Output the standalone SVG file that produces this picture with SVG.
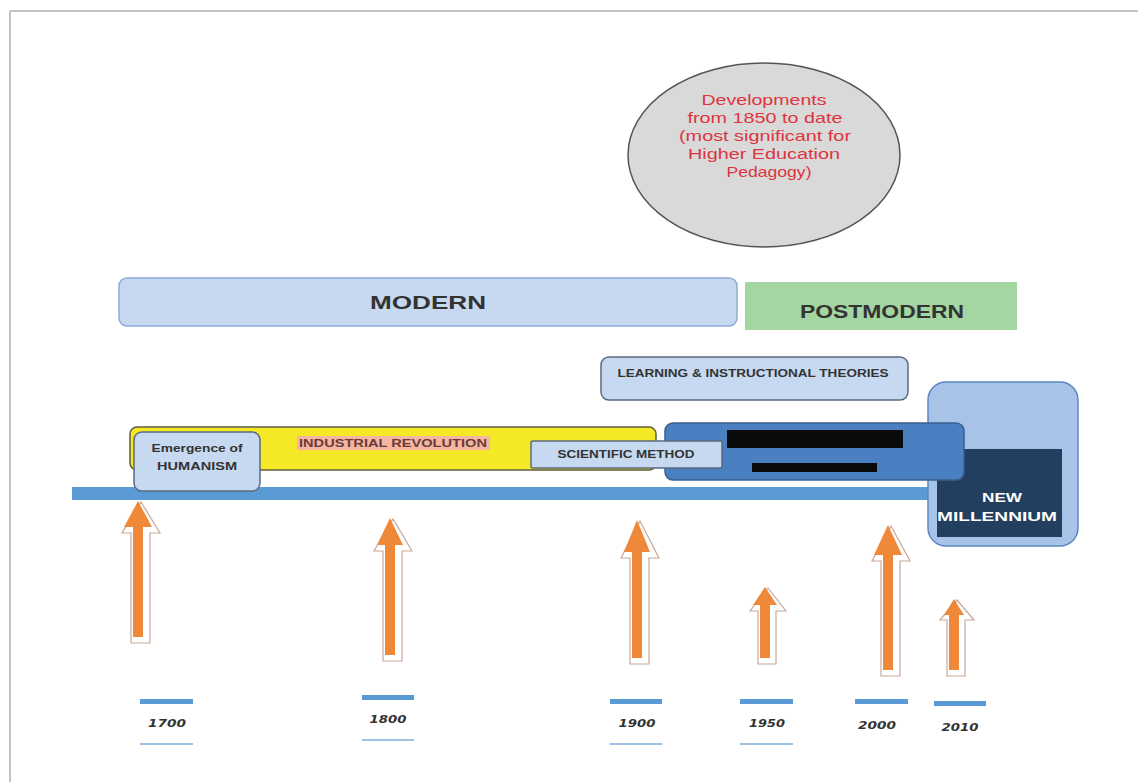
<svg xmlns="http://www.w3.org/2000/svg" width="1138" height="782" viewBox="0 0 1138 782">
<defs>
<style>
.box{fill:#c6d9f0;stroke:#5a6a80;stroke-width:1.5}
.lbl{font-family:"Liberation Sans",Arial,sans-serif;font-weight:bold;fill:#333;text-anchor:middle}
.wt{fill:#fff}
.red{fill:#6a3a3a}
.ct{font-family:"Liberation Sans",Arial,sans-serif;font-size:15px;fill:#de3440;text-anchor:middle}
.yr{font-family:"DejaVu Sans",Verdana,sans-serif;font-weight:bold;font-style:italic;font-size:10.5px;fill:#333;text-anchor:middle}
.arr{fill:#f0883a}
.sh{fill:#fff;stroke:#c9a797;stroke-width:1.2}
.tk{fill:#5b9bd5}
.tl{stroke:#9dc3e6;stroke-width:2}
</style>
</defs>
<rect width="1138" height="782" fill="#fff"/>
<g id="page">
<line x1="10" y1="11" x2="1138" y2="11" stroke="#c4c4c4" stroke-width="2"/>
<line x1="10" y1="11" x2="10" y2="782" stroke="#c4c4c4" stroke-width="2"/>
</g>

<g id="circle">
<ellipse cx="764" cy="155" rx="136" ry="92" fill="#d9d9d9" stroke="#555" stroke-width="1.5"/>
<text class="ct" x="764" y="105" textLength="125" lengthAdjust="spacingAndGlyphs">Developments</text>
<text class="ct" x="765" y="123" textLength="155" lengthAdjust="spacingAndGlyphs">from 1850 to date</text>
<text class="ct" x="765" y="141" textLength="172" lengthAdjust="spacingAndGlyphs">(most significant for</text>
<text class="ct" x="764" y="159" textLength="152" lengthAdjust="spacingAndGlyphs">Higher Education</text>
<text class="ct" x="769" y="177" textLength="85" lengthAdjust="spacingAndGlyphs">Pedagogy)</text>
</g>

<g id="modern">
<rect x="119" y="278" width="618" height="48" rx="8" fill="#c6d9f0" stroke="#8eaadb" stroke-width="1.5"/>
<text class="lbl" x="428" y="309" font-size="19" textLength="116" lengthAdjust="spacingAndGlyphs">MODERN</text>
</g>

<g id="postmodern">
<rect x="745" y="282" width="272" height="48" fill="#a3d6a0"/>
<text class="lbl" x="882" y="318" font-size="18" textLength="164" lengthAdjust="spacingAndGlyphs">POSTMODERN</text>
</g>

<g id="learning">
<rect class="box" x="601" y="357" width="307" height="43" rx="8"/>
<text class="lbl" x="753" y="377" font-size="10.5" textLength="271" lengthAdjust="spacingAndGlyphs">LEARNING &amp; INSTRUCTIONAL THEORIES</text>
</g>

<g id="timeline">
<rect x="72" y="487" width="860" height="13" fill="#5b9bd5"/>
</g>

<g id="industrial">
<rect x="130" y="427" width="526" height="43" rx="7" fill="#f5e826" stroke="#5d5d40" stroke-width="1.5"/>
<rect x="297" y="436" width="193" height="14" fill="#f4b6a0"/>
<text class="lbl red" x="393" y="447" font-size="10.5" textLength="188" lengthAdjust="spacingAndGlyphs">INDUSTRIAL REVOLUTION</text>
</g>

<g id="humanism">
<rect class="box" x="134" y="432" width="126" height="59" rx="8"/>
<text class="lbl" x="197" y="452" font-size="10" textLength="91" lengthAdjust="spacingAndGlyphs">Emergence of</text>
<text class="lbl" x="197" y="470" font-size="10.5" textLength="80" lengthAdjust="spacingAndGlyphs">HUMANISM</text>
</g>

<g id="millennium">
<rect x="928" y="382" width="150" height="164" rx="18" fill="#a7c4e8" stroke="#5b87c0" stroke-width="1.5"/>
<rect x="937" y="449" width="125" height="88" fill="#223f5f"/>
<text class="lbl wt" x="1002" y="502" font-size="12.5" textLength="40" lengthAdjust="spacingAndGlyphs">NEW</text>
<text class="lbl wt" x="997" y="521" font-size="12.5" textLength="120" lengthAdjust="spacingAndGlyphs">MILLENNIUM</text>
</g>

<g id="developments">
<rect x="665" y="423" width="299" height="57" rx="8" fill="#4a7fc1" stroke="#3a5f8f" stroke-width="1.5"/>
<rect x="727" y="430" width="176" height="18" fill="#0a0a0a"/>
<rect x="752" y="463" width="125" height="9" fill="#0a0a0a"/>
</g>

<g id="scientific">
<rect class="box" x="531" y="441" width="191" height="27" rx="2"/>
<text class="lbl" x="626" y="458" font-size="10" textLength="137" lengthAdjust="spacingAndGlyphs">SCIENTIFIC METHOD</text>
</g>

<g id="arrows">
<path class="sh" d="M141 502 L160 533 L150 533 L150 643 L131 643 L131 533 L122 533 Z"/>
<path class="arr" d="M138 501 L152 527 L143 527 L143 637 L133 637 L133 527 L124 527 Z"/>

<path class="sh" d="M393 519 L412 551 L402 551 L402 661 L383 661 L383 551 L374 551 Z"/>
<path class="arr" d="M390 518 L403 545 L395 545 L395 655 L385 655 L385 545 L377 545 Z"/>

<path class="sh" d="M640 521 L659 558 L649 558 L649 664 L630 664 L630 558 L621 558 Z"/>
<path class="arr" d="M637 520 L650 552 L642 552 L642 658 L632 658 L632 552 L624 552 Z"/>

<path class="sh" d="M768 588 L786 611 L776 611 L776 664 L758 664 L758 611 L750 611 Z"/>
<path class="arr" d="M765 587 L777 605 L770 605 L770 658 L760 658 L760 605 L753 605 Z"/>

<path class="sh" d="M891 526 L910 561 L900 561 L900 676 L881 676 L881 561 L872 561 Z"/>
<path class="arr" d="M888 525 L902 555 L893 555 L893 670 L883 670 L883 555 L874 555 Z"/>

<path class="sh" d="M957 600 L974 620 L965 620 L965 676 L947 676 L947 620 L940 620 Z"/>
<path class="arr" d="M954 599 L964 615 L959 615 L959 670 L949 670 L949 615 L944 615 Z"/>
</g>

<g id="years">
<rect class="tk" x="140" y="699" width="53" height="5"/>
<text class="yr" x="167" y="727" textLength="38" lengthAdjust="spacingAndGlyphs">1700</text>
<line class="tl" x1="140" y1="744" x2="193" y2="744"/>

<rect class="tk" x="362" y="695" width="52" height="5"/>
<text class="yr" x="388" y="723" textLength="37" lengthAdjust="spacingAndGlyphs">1800</text>
<line class="tl" x1="362" y1="740" x2="414" y2="740"/>

<rect class="tk" x="610" y="699" width="52" height="5"/>
<text class="yr" x="637" y="727" textLength="37" lengthAdjust="spacingAndGlyphs">1900</text>
<line class="tl" x1="610" y1="744" x2="662" y2="744"/>

<rect class="tk" x="740" y="699" width="53" height="5"/>
<text class="yr" x="767" y="727" textLength="36" lengthAdjust="spacingAndGlyphs">1950</text>
<line class="tl" x1="740" y1="744" x2="793" y2="744"/>

<rect class="tk" x="855" y="699" width="53" height="5"/>
<text class="yr" x="877" y="729" textLength="38" lengthAdjust="spacingAndGlyphs">2000</text>

<rect class="tk" x="934" y="701" width="52" height="5"/>
<text class="yr" x="960" y="731" textLength="37" lengthAdjust="spacingAndGlyphs">2010</text>
</g>
</svg>
